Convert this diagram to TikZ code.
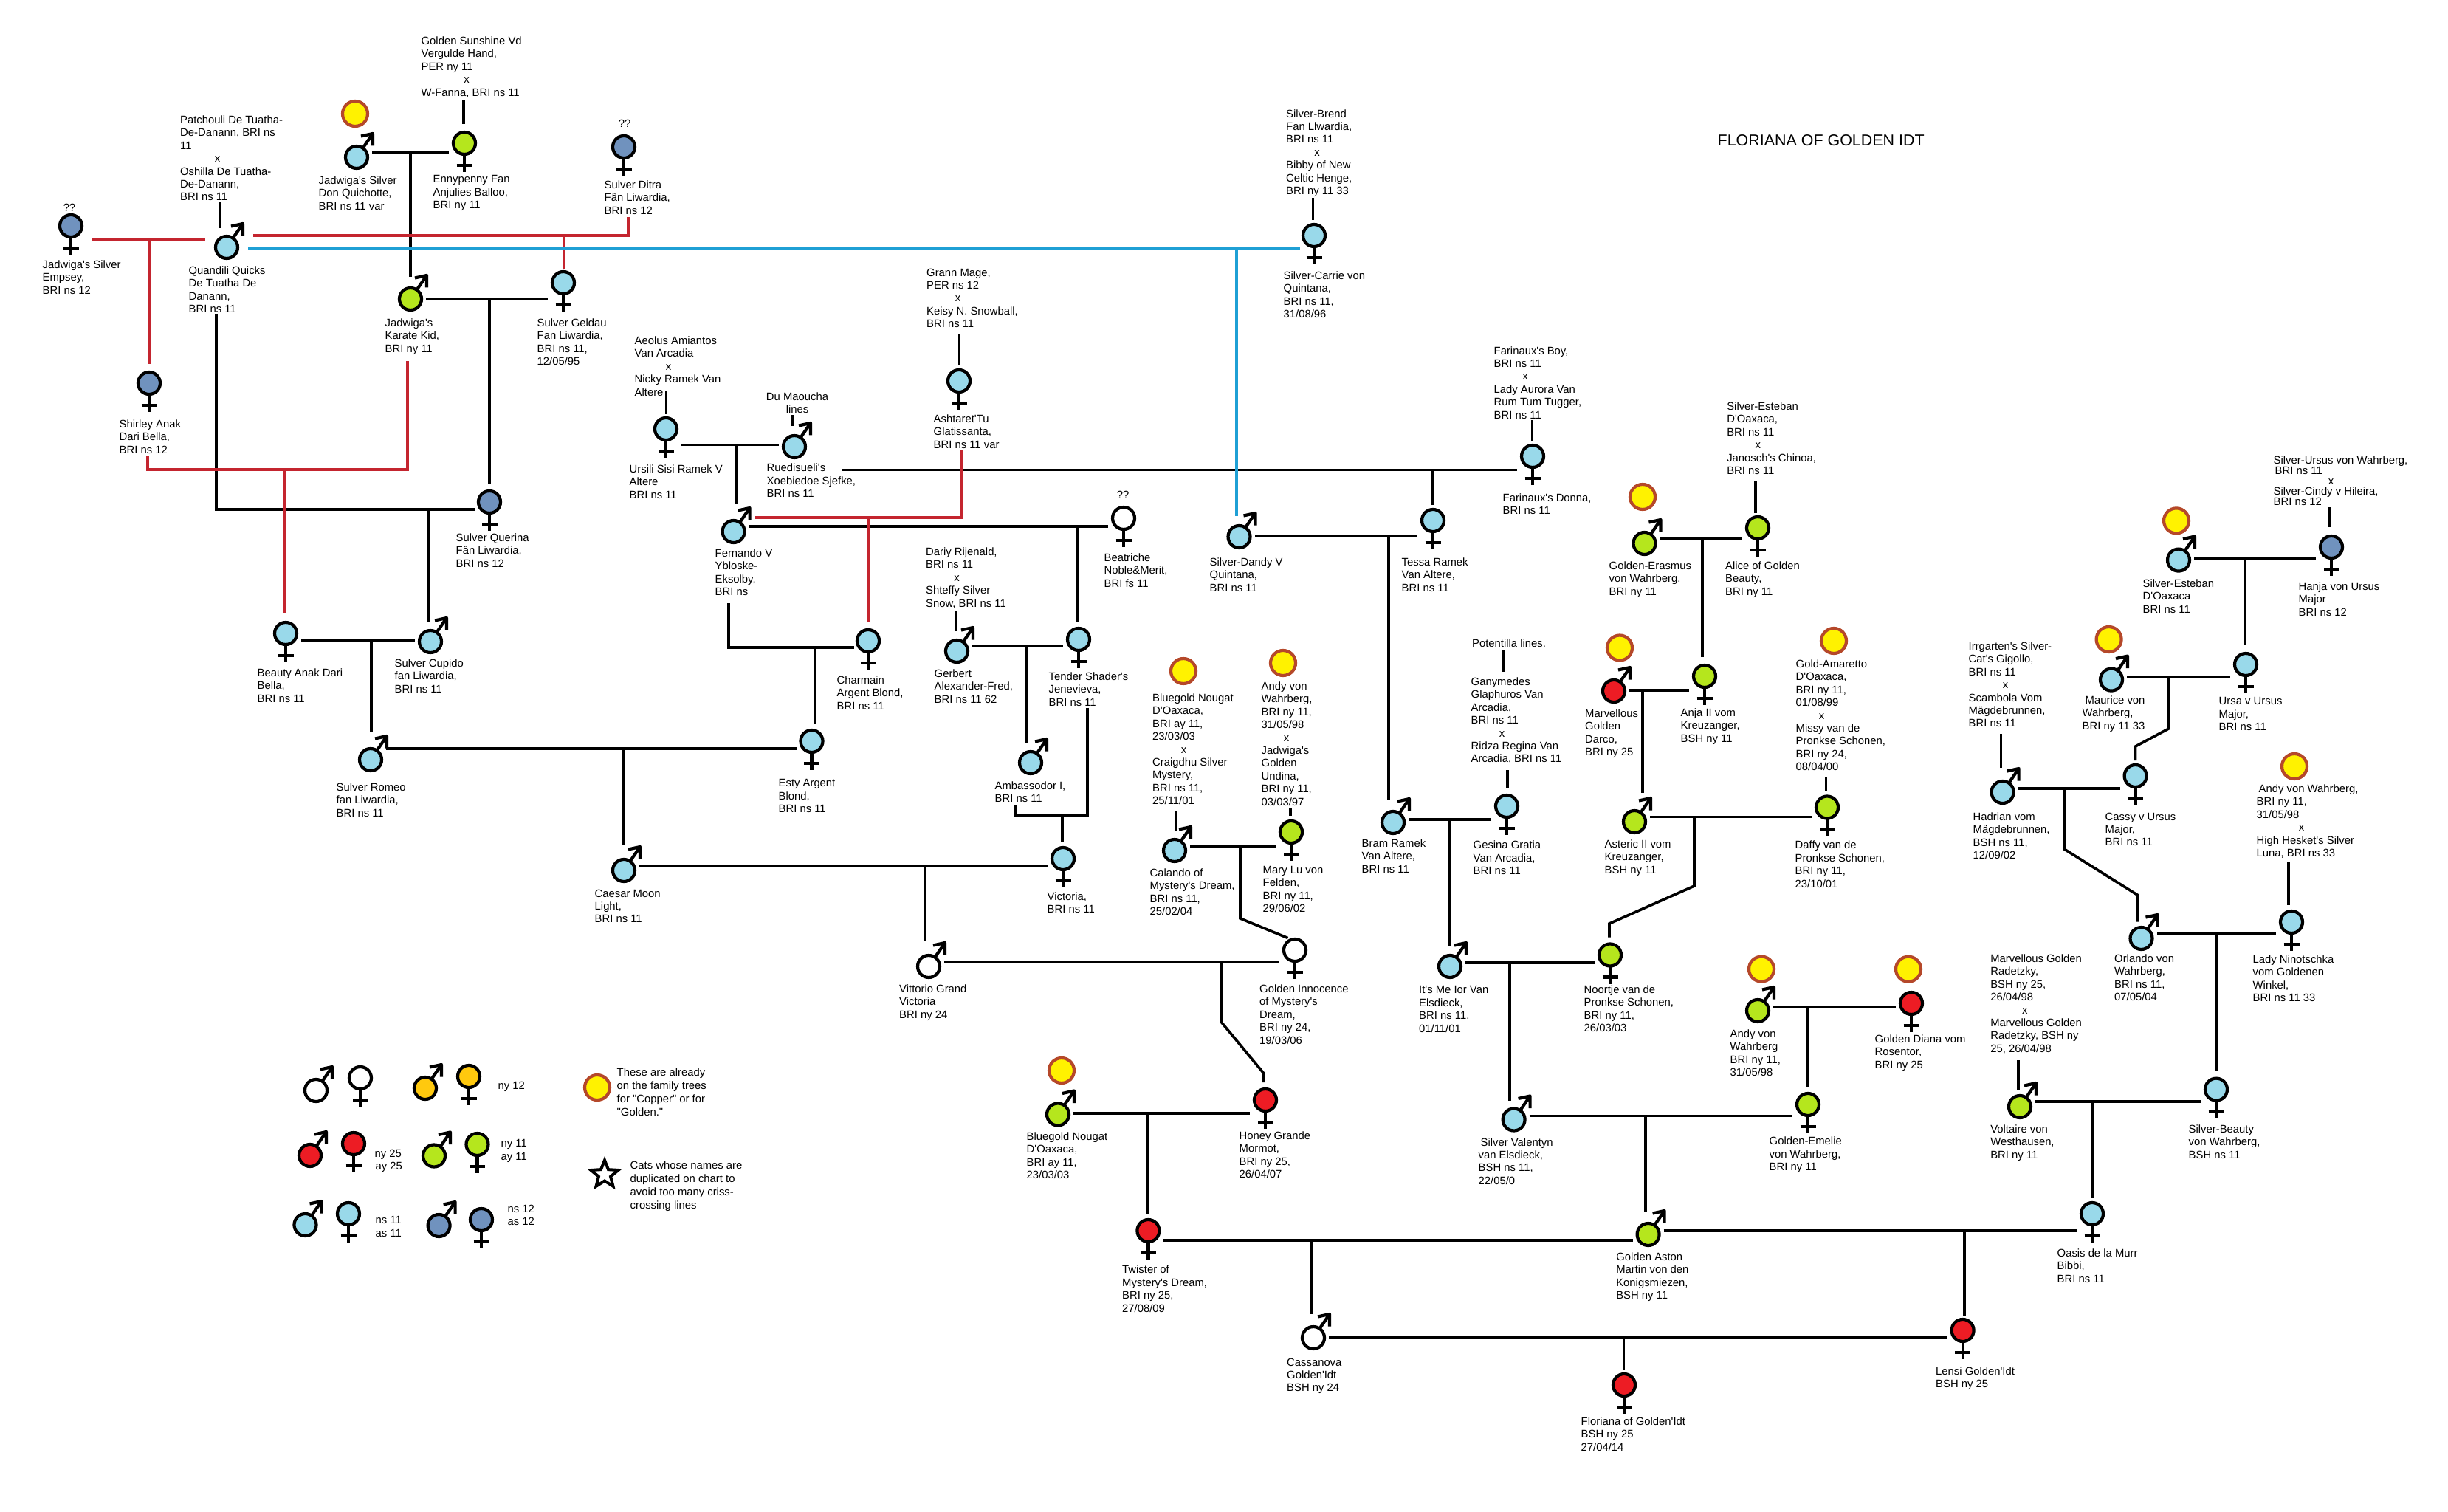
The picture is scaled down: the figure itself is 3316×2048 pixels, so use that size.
\documentclass[tikz,border=0pt]{standalone}
\usepackage{fontspec}
\setmainfont{Liberation Sans}[Ligatures=TeXOff]
\usetikzlibrary{shapes.geometric}

\definecolor{nsblue}{HTML}{99D9EA}
\definecolor{slate}{HTML}{7092BE}
\definecolor{lime}{HTML}{B5E61D}
\definecolor{ruby}{HTML}{ED1C24}
\definecolor{amber}{HTML}{FFC90E}
\definecolor{marklemon}{HTML}{FFF200}
\definecolor{markring}{HTML}{B5482A}
\definecolor{redline}{HTML}{C4252F}
\definecolor{blueline}{HTML}{1FA0D5}

\begin{document}
\begin{tikzpicture}[
    x=0.1mm, y=-0.1mm,
    cat/.style      = {circle, draw=black, line width=0.42mm, minimum size=3mm,
                       inner sep=0pt, outer sep=0.4mm},
    sym/.style      = {line width=0.42mm, black, line join=round},
    goldmark/.style = {circle, draw=markring, fill=marklemon, line width=0.42mm,
                       minimum size=3.4mm, inner sep=0pt},
    link/.style     = {line width=0.36mm, black},
    redlink/.style  = {line width=0.32mm, redline},
    bluelink/.style = {line width=0.32mm, blueline},
    bar/.style      = {shorten <=0.2mm, shorten >=0.2mm},
    lab/.style      = {anchor=north west, align=left, inner sep=0pt,
                       font=\fontsize{4.22}{4.95}\selectfont},
    tight/.style    = {lab, font=\fontsize{4.22}{3.98}\selectfont},
    mid/.style      = {lab, anchor=north, align=center},
    qm/.style       = {inner sep=0pt, font=\fontsize{4.22}{4.95}\selectfont},
  ]
  \useasboundingbox (0,0) rectangle (3316,2048);

  % --- a cat is a ringed disc with its sex sign; x-lines are indented by hand
  \def\tomcat#1#2#3#4{
    \node[cat, fill=#4] (#1) at (#2,#3) {};
    \draw[sym] (#1.center) ++(8.5,-12.4) -- ++(13.5,-19.6)
      ++(-16,3.5) -- ++(16,-3.5) -- ++(0,16.5);
  }
  \def\queen#1#2#3#4{
    \draw[sym] (#2,#3) ++(0,15) -- ++(0,24) ++(-10.5,-9) -- ++(21,0);
    \node[cat, fill=#4] (#1) at (#2,#3) {};
  }
  \def\crs#1{\hspace*{#1mm}x}

  % --- toms -----------------------------------------------------------------
  \foreach \n/\x/\y/\c in {
      qq/307/335/nsblue, jsd/483/213/nsblue, jkk/556/405/lime,
      cup/583/869/nsblue, rom/502/1029/nsblue, cae/845/1179/nsblue,
      rue/1076/605/nsblue, fer/993.6/720/nsblue, ger/1296/882/nsblue,
      amb/1396/1033/nsblue, vit/1258/1309/white, cal/1591/1152/nsblue,
      dan/1678.5/727/nsblue, bra/1887/1114/nsblue, era/2227.5/736/lime,
      dar/2186/936/ruby, ast/2214/1113/lime, ite/1964/1309/nsblue,
      val/2050.6/1516.5/nsblue, awa/2381/1369/lime, blu/1433/1509.5/lime,
      asn/2232.6/1672/lime, cas/1779/1812/white, vol/2736/1499/lime,
      orl/2900.5/1271/nsblue, sil/2951/758.6/nsblue, mau/2860/920.6/nsblue,
      had/2712.6/1073/nsblue,
      keywm/428/1477/white, keyam/576/1474/amber, keyrm/420/1565/ruby,
      keylm/588/1565.5/lime, keybm/413.5/1659/nsblue, keysm/594.6/1660/slate} {
    \tomcat{\n}{\x}{\y}{\c}
  }

  % --- queens ---------------------------------------------------------------
  \foreach \n/\x/\y/\c in {
      jse/96/306/slate, eny/629/194/lime, sgf/763/383/nsblue,
      ditra/845/199/slate, shi/202/519/slate, que/663/680/slate,
      bea/387/858/nsblue, est/1099.5/1004/nsblue, urs/902/581/nsblue,
      ash/1299/516/nsblue, ben/1522/702/white, ten/1461/866/nsblue,
      cha/1176/868/nsblue, vic/1440/1163/nsblue, inn/1754/1287/white,
      mar/1749/1127/lime, car/1780/319/nsblue, tes/1941/705/nsblue,
      don/2076/618/nsblue, ges/2041/1092/nsblue, ali/2381/715/lime,
      anj/2309/916/lime, daf/2475/1093.5/lime, noo/2181/1293.5/lime,
      eme/2449/1496/lime, dia/2589/1359/ruby, hon/1714/1490/ruby,
      twi/1555.4/1667/ruby, oas/2834/1644/nsblue, len/2658.6/1802/ruby,
      flo/2200/1876/ruby, sbe/3002/1475.6/nsblue, nin/3104/1249/nsblue,
      han/3158/741/slate, ura/3042/900/nsblue, csy/2892.6/1051/nsblue,
      keywf/488/1460/white, keyaf/635/1458/amber, keyrf/479/1549/ruby,
      keylf/646.5/1550/lime, keybf/472/1644/nsblue, keysf/652/1652/slate} {
    \queen{\n}{\x}{\y}{\c}
  }

  % --- marks for cats already on the other charts ----------------------------
  \foreach \n/\x/\y in {
      1/481/154, 2/1603/909, 3/1738/898, 4/2225/673, 5/2194/877.5,
      6/2484/868, 7/2386/1312.6, 8/2585/1312.7, 9/1438/1450, 10/2948/705.4,
      11/2856.6/866, 12/3108/1038, 13/809/1473} {
    \node[goldmark] (mark\n) at (\x,\y) {};
  }

  % --- matings: a bar between two cats, (\j) is where the kittens hang from --
  \foreach \a/\b/\jx/\jy/\j in {
      jsd/eny/556/206/j1, jkk/sgf/663/405.5/j2, bea/cup/503/868/j4,
      rom/est/845/1014/j5, urs/rue/998/602.6/j6, fer/ben/1460/713/j8,
      ger/ten/1390/875/j10, cae/vic/1253/1173/j12, vit/inn/1654/1303.5/j13,
      cal/mar/1680/1146/j14, dan/tes/1881/725.5/j15, bra/ges/1964/1110/j16,
      era/ali/2306/730/j17, dar/anj/2225/935/j18, ast/daf/2295/1106.6/j19,
      ite/noo/2045/1304/j20, val/eme/2229/1511.6/j21, awa/dia/2448/1363.6/j22,
      blu/hon/1554/1508/j23, twi/asn/1776/1680/j24, asn/oas/2661/1667/j25,
      cas/len/2199.6/1812/j26, vol/sbe/2834/1492/j27, orl/nin/3002.7/1264/j28,
      sil/han/3041/757/j29, mau/ura/2937.6/916.7/j30, had/csy/2797/1068/j31} {
    \coordinate (\j) at (\jx,\jy);
    \draw[link, bar] (\a.east |- \j) -- (\b.west |- \j);
  }

  % --- matings that start or turn away from the cats --------------------------
  \coordinate (j3) at (580,690);    \coordinate (q1) at (293,425);
  \draw[link] (q1) -- (q1 |- j3) -- (que.west |- j3);
  \coordinate (j7) at (1940.6,636.6);  \coordinate (k1) at (1138,636.6);
  \draw[link, bar] (k1) -- (don.west |- k1);
  \coordinate (j9) at (1104,877);   \coordinate (f1) at (987,817);
  \draw[link] (f1) -- (f1 |- j9) -- (cha.west |- j9);
  \coordinate (j11) at (1439,1104);
  \coordinate (t1) at (1473,958.5); \coordinate (t2) at (1376,1091);
  \draw[link] (t1) -- (t1 |- j11) -- (t2 |- j11) -- (t2);

  % --- kittens ---------------------------------------------------------------
  \foreach \j/\kid/\gap in {
      j1/jkk/11, j2/que/6, j3/cup/7, j4/rom/18, j5/cae/15, j6/fer/19, j7/tes/2,
      j8/ten/4, j9/est/4, j10/amb/7, j11/vic/4, j12/vit/15, j15/bra/12,
      j16/ite/8, j17/anj/7, j18/ast/20, j20/val/6.5, j21/asn/11, j22/eme/5,
      j23/twi/3, j24/cas/13, j25/len/0, j26/flo/2.5, j27/oas/2, j28/sbe/7,
      j29/ura/7} {
    \draw[link, shorten >=\gap*0.1mm] (\j) -- (\j |- \kid.north);
  }
  % the ones that had to step sideways round a label
  \draw[link, shorten >=0.5mm] (j13) -- ++(0,80.5) -- ++(58,70) coordinate (h1)
    -- (h1 |- hon.north);
  \draw[link] (j14) -- ++(0,98) -- (inn.120);
  \draw[link, shorten >=0.5mm] (j19) -- ++(0,93.4) -- ++(-115,51) coordinate (n1)
    -- (n1 |- noo.north);
  \draw[link, shorten >=0.2mm] (j30) -- ++(0,70.3) -- ++(-45,24) coordinate (c1)
    -- (c1 |- csy.north);
  \draw[link, shorten >=0.35mm] (j31) -- ++(0,82.6) -- ++(98,61.4) coordinate (o1)
    -- (o1 |- orl.north);

  % --- stems from the parents written above a cat -----------------------------
  \foreach \xs/\ys/\kid/\gap in {
      297.5/274/qq/7, 628/136/eny/7, 902.5/529/urs/1, 1073.5/562.5/rue/9,
      1299.6/453/ash/3, 1295/826.5/ger/8, 1593/1097.5/cal/8, 1748/1094/mar/3,
      1778.6/268.5/car/2, 2075.5/569.5/don/1, 2378/651/ali/1.5, 2042/1043/ges/6,
      2473.6/1053/daf/4, 2734/1436/vol/4.4, 3156/687/han/8, 2710.5/994/had/14.5,
      3100/1167/nin/4.5} {
    \coordinate (s\kid) at (\xs,\ys);
    \draw[link, shorten >=\gap*0.1mm] (s\kid) -- (s\kid |- \kid.north);
  }

  % --- the red lines: cats duplicated elsewhere on the chart ------------------
  \coordinate (r1) at (202,324.5);
  \draw[redlink, shorten <=0.9mm, shorten >=1mm] (jse.east |- r1) -- (qq.west |- r1);
  \draw[redlink, shorten >=0.65mm] (r1) -- (r1 |- shi.north);
  \coordinate (r2) at (764,319);    \coordinate (r2e) at (851,294);
  \draw[redlink, shorten <=1.7mm] (qq.east |- r2) -- (r2e |- r2) -- (r2e);
  \draw[redlink] (r2) -- (r2 |- sgf.north);
  \coordinate (r3) at (385,636);
  \coordinate (r3a) at (200,618);   \coordinate (r3b) at (552,489);
  \draw[redlink] (r3a) -- (r3a |- r3) -- (r3b |- r3) -- (r3b);
  \draw[redlink, shorten >=0.9mm] (r3) -- (r3 |- bea.north);
  \coordinate (r4) at (1176,701);   \coordinate (r4a) at (1303,610);
  \draw[redlink, shorten >=1mm] (r4a) -- (r4a |- r4) -- (fer.east |- r4);
  \draw[redlink, shorten >=0.6mm] (r4) -- (r4 |- cha.north);

  % --- and the one blue line --------------------------------------------------
  \coordinate (b1) at (1675,336);
  \draw[bluelink, shorten <=1mm] (qq.east |- b1) -- (car.west |- b1);
  \draw[bluelink, shorten >=0.95mm] (b1) -- (b1 |- dan.north);

  % --- title ------------------------------------------------------------------
  \node[anchor=north west, inner sep=0pt, font=\fontsize{6.1}{7}\selectfont]
    (title) at (2326,182) {FLORIANA OF GOLDEN IDT};

  % --- names, left half --------------------------------------------------------
  \node[qm] (qjse) at (94,281) {??};
  \node[lab] (tjse) at (57,352) {Jadwiga's Silver\\Empsey,\\BRI ns 12};
  \node[lab] (tqq) at (255,360) {Quandili Quicks\\De Tuatha De\\Danann,\\BRI ns 11};
  \node[lab] (pqq) at (243.5,156) {Patchouli De Tuatha-\\De-Danann, BRI ns\\11\\\crs{4.67}\\Oshilla De Tuatha-\\De-Danann,\\BRI ns 11};
  \node[lab] (tjsd) at (431,238) {Jadwiga's Silver\\Don Quichotte,\\BRI ns 11 var};
  \node[lab] (teny) at (586,237) {Ennypenny Fan\\Anjulies Balloo,\\BRI ny 11};
  \node[lab] (peny) at (570,49) {Golden Sunshine Vd\\Vergulde Hand,\\PER ny 11\\\crs{5.77}\\W-Fanna, BRI ns 11};
  \node[lab] (tjkk) at (521,431) {Jadwiga's\\Karate Kid,\\BRI ny 11};
  \node[lab] (tsgf) at (727,431) {Sulver Geldau\\Fan Liwardia,\\BRI ns 11,\\12/05/95};
  \node[qm] (qditra) at (846,167.5) {??};
  \node[lab] (tditra) at (818,244) {Sulver Ditra\\Fân Liwardia,\\BRI ns 12};
  \node[lab] (tshi) at (161,568) {Shirley Anak\\Dari Bella,\\BRI ns 12};
  \node[lab] (tque) at (617,722) {Sulver Querina\\Fân Liwardia,\\BRI ns 12};
  \node[lab] (tcup) at (534,892) {Sulver Cupido\\fan Liwardia,\\BRI ns 11};
  \node[lab] (tbea) at (348,905) {Beauty Anak Dari\\Bella,\\BRI ns 11};
  \node[lab] (trom) at (455,1060) {Sulver Romeo\\fan Liwardia,\\BRI ns 11};
  \node[lab] (test) at (1054,1055) {Esty Argent\\Blond,\\BRI ns 11};
  \node[lab] (tcae) at (805,1204) {Caesar Moon\\Light,\\BRI ns 11};
  \node[lab] (purs) at (859,455) {Aeolus Amiantos\\Van Arcadia\\\crs{4.22}\\Nicky Ramek Van\\Altere};
  \node[lab] (turs) at (852,629) {Ursili Sisi Ramek V\\Altere\\BRI ns 11};
  \node[mid] (prue) at (1080,531) {Du Maoucha\\lines};
  \node[lab] (true) at (1038,627.5) {Ruedisueli's\\Xoebiedoe Sjefke,\\BRI ns 11};
  \node[lab] (pash) at (1254.5,363) {Grann Mage,\\PER ns 12\\\crs{3.87}\\Keisy N. Snowball,\\BRI ns 11};
  \node[lab] (tash) at (1264,561) {Ashtaret'Tu\\Glatissanta,\\BRI ns 11 var};
  \node[lab] (tfer) at (968,743) {Fernando V\\Ybloske-\\Eksolby,\\BRI ns};
  \node[qm] (qben) at (1521,670) {??};
  \node[lab] (tben) at (1495,749) {Beatriche\\Noble\&Merit,\\BRI fs 11};
  \node[lab] (tten) at (1420,910) {Tender Shader's\\Jenevieva,\\BRI ns 11};
  \node[lab] (tcha) at (1133,915) {Charmain\\Argent Blond,\\BRI ns 11};
  \node[lab] (pger) at (1253.5,741) {Dariy Rijenald,\\BRI ns 11\\\crs{3.82}\\Shteffy Silver\\Snow, BRI ns 11};
  \node[lab] (tger) at (1265,906) {Gerbert\\Alexander-Fred,\\BRI ns 11 62};
  \node[lab] (tamb) at (1347,1058) {Ambassodor I,\\BRI ns 11};
  \node[lab] (tvic) at (1418,1208) {Victoria,\\BRI ns 11};
  \node[lab] (tvit) at (1217.5,1333) {Vittorio Grand\\Victoria\\BRI ny 24};
  \node[lab] (tinn) at (1705.5,1333) {Golden Innocence\\of Mystery's\\Dream,\\BRI ny 24,\\19/03/06};
  \node[lab] (tcal) at (1557,1176) {Calando of\\Mystery's Dream,\\BRI ns 11,\\25/02/04};
  \node[lab] (pcal) at (1560.5,939) {Bluegold Nougat\\D'Oaxaca,\\BRI ay 11,\\23/03/03\\\crs{3.87}\\Craigdhu Silver\\Mystery,\\BRI ns 11,\\25/11/01};
  \node[lab] (pmar) at (1708,923) {Andy von\\Wahrberg,\\BRI ny 11,\\31/05/98\\\crs{3.02}\\Jadwiga's\\Golden\\Undina,\\BRI ny 11,\\03/03/97};
  \node[lab] (tmar) at (1710,1172.5) {Mary Lu von\\Felden,\\BRI ny 11,\\29/06/02};

  % --- names, right half -------------------------------------------------------
  \node[lab] (tbra) at (1844,1136) {Bram Ramek\\Van Altere,\\BRI ns 11};
  \node[lab] (tdan) at (1638,755) {Silver-Dandy V\\Quintana,\\BRI ns 11};
  \node[lab] (tcar) at (1738,367) {Silver-Carrie von\\Quintana,\\BRI ns 11,\\31/08/96};
  \node[lab] (pcar) at (1741.5,147.6) {Silver-Brend\\Fan Llwardia,\\BRI ns 11\\\crs{3.82}\\Bibby of New\\Celtic Henge,\\BRI ny 11 33};
  \node[lab] (tdon) at (2035,668) {Farinaux's Donna,\\BRI ns 11};
  \node[lab] (pdon) at (2023,468.6) {Farinaux's Boy,\\BRI ns 11\\\crs{3.87}\\Lady Aurora Van\\Rum Tum Tugger,\\BRI ns 11};
  \node[lab] (ttes) at (1898,755) {Tessa Ramek\\Van Altere,\\BRI ns 11};
  \node[lab] (tera) at (2179,760) {Golden-Erasmus\\von Wahrberg,\\BRI ny 11};
  \node[lab] (tali) at (2336.5,760) {Alice of Golden\\Beauty,\\BRI ny 11};
  \node[lab] (pali) at (2338.6,544) {Silver-Esteban\\D'Oaxaca,\\BRI ns 11\\\crs{3.82}\\Janosch's Chinoa,\\BRI ns 11};
  \node[lab] (tanj) at (2276,959) {Anja II vom\\Kreuzanger,\\BSH ny 11};
  \node[lab] (tdar) at (2146.5,960) {Marvellous\\Golden\\Darco,\\BRI ny 25};
  \node[lab] (tast) at (2173,1137) {Asteric II vom\\Kreuzanger,\\BSH ny 11};
  \node[lab] (tges) at (1995,1138.5) {Gesina Gratia\\Van Arcadia,\\BRI ns 11};
  \node[lab] (pges) at (1992,917) {Ganymedes\\Glaphuros Van\\Arcadia,\\BRI ns 11\\\crs{3.82}\\Ridza Regina Van\\Arcadia, BRI ns 11};
  \node[lab] (ppot) at (1993.5,865) {Potentilla lines.};
  \coordinate (spot) at (2036,880);
  \draw[link, shorten >=0.7mm] (spot) -- (spot |- pges.north);
  \node[lab] (tite) at (1921.5,1335) {It's Me Ior Van\\Elsdieck,\\BRI ns 11,\\01/11/01};
  \node[lab] (tnoo) at (2145,1334) {Noortje van de\\Pronkse Schonen,\\BRI ny 11,\\26/03/03};
  \node[lab] (tdaf) at (2431,1138.5) {Daffy van de\\Pronkse Schonen,\\BRI ny 11,\\23/10/01};
  \node[lab] (pdaf) at (2432,893) {Gold-Amaretto\\D'Oaxaca,\\BRI ny 11,\\01/08/99\\\crs{3.12}\\Missy van de\\Pronkse Schonen,\\BRI ny 24,\\08/04/00};
  \node[lab] (tval) at (2002,1540.7) {\hspace*{0.3mm}Silver Valentyn\\van Elsdieck,\\BSH ns 11,\\22/05/0};
  \node[lab] (teme) at (2396,1539.5) {Golden-Emelie\\von Wahrberg,\\BRI ny 11};
  \node[lab] (tasn) at (2188.6,1696) {Golden Aston\\Martin von den\\Konigsmiezen,\\BSH ny 11};
  \node[lab] (tawa) at (2343,1394) {Andy von\\Wahrberg\\BRI ny 11,\\31/05/98};
  \node[lab] (tdia) at (2539,1401) {Golden Diana vom\\Rosentor,\\BRI ny 25};
  \node[lab] (pvol) at (2695.6,1292) {Marvellous Golden\\Radetzky,\\BSH ny 25,\\26/04/98\\\crs{4.27}\\Marvellous Golden\\Radetzky, BSH ny\\25, 26/04/98};
  \node[lab] (tvol) at (2695.6,1523) {Voltaire von\\Westhausen,\\BRI ny 11};
  \node[lab] (tsbe) at (2964,1523) {Silver-Beauty\\von Wahrberg,\\BSH ns 11};
  \node[lab] (toas) at (2786,1691) {Oasis de la Murr\\Bibbi,\\BRI ns 11};
  \node[lab] (tlen) at (2621.5,1850.7) {Lensi Golden'Idt\\BSH ny 25};
  \node[lab] (ttwi) at (1519.5,1713.4) {Twister of\\Mystery's Dream,\\BRI ny 25,\\27/08/09};
  \node[lab] (tcas) at (1742.5,1839) {Cassanova\\Golden'Idt\\BSH ny 24};
  \node[lab] (tflo) at (2141,1919) {Floriana of Golden'Idt\\BSH ny 25\\27/04/14};
  \node[lab] (tblu) at (1390,1533) {Bluegold Nougat\\D'Oaxaca,\\BRI ay 11,\\23/03/03};
  \node[lab] (thon) at (1678,1532) {Honey Grande\\Mormot,\\BRI ny 25,\\26/04/07};
  \node[lab] (tsil) at (2902,784) {Silver-Esteban\\D'Oaxaca\\BRI ns 11};
  \node[lab] (than) at (3113,788) {Hanja von Ursus\\Major\\BRI ns 12};
  \node[tight] (phan) at (3079,617) {Silver-Ursus von Wahrberg,\\\hspace*{0.2mm}BRI ns 11\\\crs{7.42}\\Silver-Cindy v Hileira,\\BRI ns 12};
  \node[lab] (tura) at (3005,944) {Ursa v Ursus\\Major,\\BRI ns 11};
  \node[lab] (tmau) at (2820,942) {\hspace*{0.4mm}Maurice von\\Wahrberg,\\BRI ny 11 33};
  \node[lab] (thad) at (2672,1100) {Hadrian vom\\Mägdebrunnen,\\BSH ns 11,\\12/09/02};
  \node[lab] (tcsy) at (2851,1100) {Cassy v Ursus\\Major,\\BRI ns 11};
  \node[lab] (phad) at (2666,869) {Irrgarten's Silver-\\Cat's Gigollo,\\BRI ns 11\\\crs{4.62}\\Scambola Vom\\Mägdebrunnen,\\BRI ns 11};
  \node[lab] (torl) at (2863.5,1292) {Orlando von\\Wahrberg,\\BRI ns 11,\\07/05/04};
  \node[lab] (tnin) at (3051,1293) {Lady Ninotschka\\vom Goldenen\\Winkel,\\BRI ns 11 33};
  \node[lab] (pnin) at (3056,1062) {\hspace*{0.3mm}Andy von Wahrberg,\\BRI ny 11,\\31/05/98\\\crs{5.72}\\High Hesket's Silver\\Luna, BRI ns 33};

  % --- key ---------------------------------------------------------------------
  \node[lab] (key12) at (674,1464) {ny 12};
  \node[lab] (key25) at (507,1556) {ny 25\\\hspace*{0.1mm}ay 25};
  \node[lab] (key11) at (678,1543) {ny 11\\ay 11};
  \node[lab] (keyns) at (508,1647) {ns 11\\as 11};
  \node[lab] (keysl) at (687,1631) {ns 12\\as 12};
  \node[lab, font=\fontsize{4.22}{5.1}\selectfont] (keymark) at (835,1446)
    {These are already\\on the family trees\\for "Copper" or for\\"Golden."};
  \node[star, star points=5, star point ratio=2.3, draw=black, fill=white,
        line width=0.4mm, minimum size=3.9mm, inner sep=0pt] (keystar) at (819,1591) {};
  \node[lab, font=\fontsize{4.22}{5.1}\selectfont] (keydup) at (853,1572)
    {Cats whose names are\\duplicated on chart to\\avoid too many criss-\\crossing lines};

\end{tikzpicture}
\end{document}
